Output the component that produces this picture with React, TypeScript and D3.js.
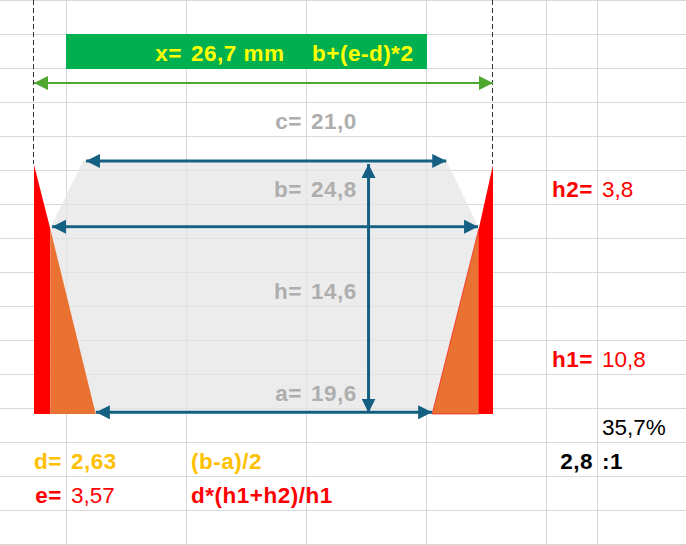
/**
 * Trapezoid cross-section sketch laid over a spreadsheet grid, drawn with D3 scales.
 */
import React from 'react';
import * as d3 from 'd3';

// measurements in mm
const valH1 = 10.8;
const valD = 2.63;
const valE = 3.57;
const valX = 26.7;
const valH = 14.6;

// outline positions along the width, in mm
const leftA = 3.59;
const leftB = 0.95;
const leftC = 2.85;
const rightC = 24.0;
const rightB = 25.87;
const rightA = 23.16;

const labelRows = [
  { name: 'c=', value: '21,0', row: 3 },
  { name: 'b=', value: '24,8', row: 5 },
  { name: 'h=', value: '14,6', row: 8 },
  { name: 'a=', value: '19,6', row: 11 },
];

const colEdges = [66, 186, 306, 426, 546, 597];
const rowCount = 16;

const width = 686;
const height = 545;

const BLUE = '#156082';
const GREEN = '#4ea72e';
const RED = '#ff0000';
const ORANGE = '#e97132';
const AMBER = '#ffc000';
const GREY_TEXT = '#aeaeae';
const GRID = '#d9d9d9';
const FONT = '"Liberation Sans", Arial, sans-serif';

const xs = d3.scaleLinear().domain([0, valX]).range([34, 493]);
const ys = d3.scaleLinear().domain([0, valH]).range([414, 164]);
const rowY = d3.scaleLinear().domain([0, rowCount]).range([0.5, 544.5]);

const poly = d3.line<[number, number]>()
  .x(d => xs(d[0]))
  .y(d => ys(d[1]));

const closed = (pts: [number, number][]) => `${poly(pts)}Z`;

const topY = valH + 0.18;

const greyLower = closed([
  [leftA, 0], [leftB, valH1], [rightB, valH1], [rightA, 0],
]);
const greyUpper = closed([
  [leftB, 10.88], [leftC, topY], [rightC, topY], [rightB, 10.88],
]);
const redLeft = closed([[0, valH - 0.05], [leftB, valH1], [leftB, 0], [0, 0]]);
const redRight = closed([[valX, valH - 0.05], [rightB, valH1], [rightB, 0], [valX, 0]]);
const orangeLeft = closed([[leftB, valH1], [leftA, 0], [leftB, 0]]);
const orangeRight = closed([[rightB, valH1], [rightA, 0], [rightB, 0]]);

// double headed dimension arrows: [from, to, level] in mm
const blueArrows: [number, number, number][] = [
  [3.02, 23.98, topY],
  [1.05, 25.83, 10.94],
  [3.6, 23.16, 0.1],
];
const heightArrowAt = 19.46;

function Label(props: {
  x: number; row: number; fill: string; bold?: boolean; end?: boolean; children: string;
}) {
  return (
    <text
      x={props.x}
      y={rowY(props.row) + 26}
      fill={props.fill}
      fontFamily={FONT}
      fontSize={22.5}
      fontWeight={props.bold ? 700 : 400}
      letterSpacing={props.bold ? 0.5 : 0}
      textAnchor={props.end ? 'end' : 'start'}
    >
      {props.children}
    </text>
  );
}

export default function App() {
  return (
    <svg
      width={width}
      height={height}
      style={{ position: 'absolute', left: 0, top: 0, background: '#fff' }}
    >
      <defs>
        {[['blue', BLUE], ['green', GREEN]].map(([id, color]) => (
          <marker
            key={id}
            id={`head-${id}`}
            viewBox="0 0 14 14"
            refX={14}
            refY={7}
            markerWidth={14}
            markerHeight={14}
            markerUnits="userSpaceOnUse"
            orient="auto-start-reverse"
          >
            <path d="M0,0L14,7L0,14Z" fill={color} />
          </marker>
        ))}
      </defs>

      {/* sheet grid */}
      {colEdges.map(c => (
        <line key={c} x1={c + 0.5} x2={c + 0.5} y1={0} y2={height} stroke={GRID} />
      ))}
      {d3.range(rowCount + 1).map(r => (
        <line key={r} x1={0} x2={width} y1={rowY(r)} y2={rowY(r)} stroke={GRID} />
      ))}

      <path d={greyUpper} fill="#e6e6e6" fillOpacity={0.74} />
      <path d={greyLower} fill="#e6e6e6" fillOpacity={0.74} />
      <path d={redLeft} fill={RED} />
      <path d={redRight} fill={RED} />
      <path d={orangeLeft} fill={ORANGE} />
      <path d={orangeRight} fill={ORANGE} stroke={RED} strokeWidth={0.6} />

      {/* banner */}
      <rect x={66} y={34} width={361} height={35} fill="#00b050" />

      {/* extension lines */}
      {[0, valX].map(v => (
        <line
          key={v}
          x1={xs(v) - 0.5}
          x2={xs(v) - 0.5}
          y1={0}
          y2={ys(valH)}
          stroke="#333"
          strokeWidth={1}
          strokeDasharray="5 3"
        />
      ))}

      {/* overall width arrow */}
      <line
        x1={xs(0)}
        x2={xs(valX)}
        y1={83}
        y2={83}
        stroke={GREEN}
        strokeWidth={2}
        markerStart="url(#head-green)"
        markerEnd="url(#head-green)"
      />

      {blueArrows.map(([from, to, level]) => (
        <line
          key={level}
          x1={xs(from)}
          x2={xs(to)}
          y1={ys(level)}
          y2={ys(level)}
          stroke={BLUE}
          strokeWidth={3}
          markerStart="url(#head-blue)"
          markerEnd="url(#head-blue)"
        />
      ))}
      <line
        x1={xs(heightArrowAt)}
        x2={xs(heightArrowAt)}
        y1={ys(valH)}
        y2={ys(0.08)}
        stroke={BLUE}
        strokeWidth={3}
        markerStart="url(#head-blue)"
        markerEnd="url(#head-blue)"
      />

      {/* banner text */}
      <Label x={182} row={1} fill="#ffff00" bold end>x=</Label>
      <Label x={191} row={1} fill="#ffff00" bold>26,7 mm</Label>
      <Label x={312} row={1} fill="#ffff00" bold>b+(e-d)*2</Label>

      {labelRows.map(l => (
        <g key={l.name}>
          <Label x={302} row={l.row} fill={GREY_TEXT} bold end>{l.name}</Label>
          <Label x={311} row={l.row} fill={GREY_TEXT} bold>{l.value}</Label>
        </g>
      ))}

      <Label x={593} row={5} fill={RED} bold end>h2=</Label>
      <Label x={602} row={5} fill={RED}>3,8</Label>
      <Label x={593} row={10} fill={RED} bold end>h1=</Label>
      <Label x={602} row={10} fill={RED}>10,8</Label>
      <Label x={602} row={12} fill="#000">35,7%</Label>
      <Label x={593} row={13} fill="#000" bold end>2,8</Label>
      <Label x={602} row={13} fill="#000" bold>:1</Label>

      <Label x={62} row={13} fill={AMBER} bold end>d=</Label>
      <Label x={71} row={13} fill={AMBER} bold>{String(valD).replace('.', ',')}</Label>
      <Label x={191} row={13} fill={AMBER} bold>(b-a)/2</Label>
      <Label x={62} row={14} fill={RED} bold end>e=</Label>
      <Label x={71} row={14} fill={RED}>{String(valE).replace('.', ',')}</Label>
      <Label x={191} row={14} fill={RED} bold>d*(h1+h2)/h1</Label>
    </svg>
  );
}
